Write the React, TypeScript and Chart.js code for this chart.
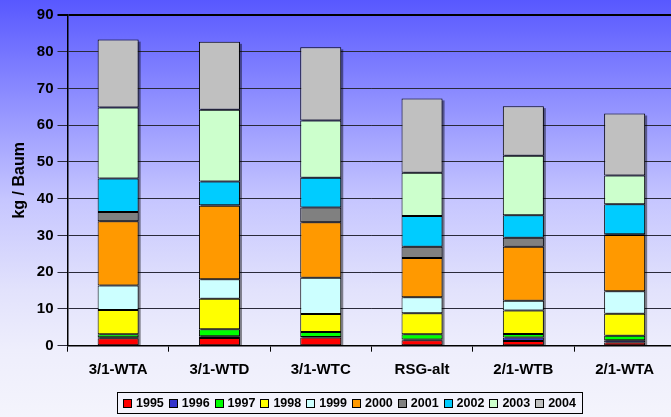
import React, { useEffect, useRef } from "react";
import { Chart, registerables } from "chart.js";

Chart.register(...registerables);

const categories = ["3/1-WTA", "3/1-WTD", "3/1-WTC", "RSG-alt", "2/1-WTB", "2/1-WTA"];
const years = ["1995", "1996", "1997", "1998", "1999", "2000", "2001", "2002", "2003", "2004"];
const v1995 = [2.0, 2.1, 2.2, 1.5, 1.3, 0.9];
const v1996 = [0.3, 0.5, 0.2, 0.2, 0.9, 0.6];
const v1997 = [0.8, 1.9, 1.3, 1.4, 1.0, 1.2];
const v1998 = [6.6, 8.3, 4.9, 5.7, 6.4, 6.0];
const v1999 = [6.7, 5.3, 9.9, 4.4, 2.6, 6.1];
const v2000 = [17.5, 20.0, 15.1, 10.7, 14.7, 15.3];
const v2001 = [2.5, 0.1, 4.0, 3.0, 2.5, 0.2];
const v2002 = [9.1, 6.5, 8.1, 8.4, 6.1, 8.2];
const v2003 = [19.3, 19.5, 15.6, 11.8, 16.2, 7.8];
const v2004 = [18.5, 18.5, 19.9, 20.2, 13.5, 16.9];
const seriesValues = [v1995, v1996, v1997, v1998, v1999, v2000, v2001, v2002, v2003, v2004];
const colors = ["#ff0000", "#3333cc", "#00ff00", "#ffff00", "#ccffff", "#ff9900", "#808080", "#00ccff", "#ccffcc", "#c0c0c0"];
const yTicks = { min: 0, max: 90, step: 10 };
const yTitle = "kg / Baum";

const FONT = "'Liberation Sans', Arial, sans-serif";

const shadowPlugin = {
  id: "barShadow",
  beforeDatasetsDraw(chart: any) {
    const ctx = chart.ctx;
    const n = chart.data.datasets.length;
    const first = chart.getDatasetMeta(0).data;
    const last = chart.getDatasetMeta(n - 1).data;
    ctx.save();
    ctx.fillStyle = "rgba(0,0,0,0.45)";
    first.forEach((el: any, i: number) => {
      const top = last[i].y;
      const base = el.base;
      const w = el.width;
      ctx.fillRect(el.x - w / 2 + 2, top + 2, w, base - top - 2);
    });
    ctx.restore();
  },
};

export default function App() {
  const ref = useRef<HTMLCanvasElement>(null);
  useEffect(() => {
    document.body.style.margin = "0";
    document.body.style.overflow = "hidden";
    const chart = new Chart(ref.current as HTMLCanvasElement, {
      type: "bar",
      data: {
        labels: categories,
        datasets: years.map((y, i) => ({
          label: y,
          data: seriesValues[i],
          backgroundColor: colors[i],
          borderColor: "#000",
          borderWidth: 1,
          borderSkipped: false,
          barPercentage: 0.405,
          categoryPercentage: 1,
        })),
      },
      options: {
        animation: false,
        responsive: false,
        devicePixelRatio: 1,
        layout: { padding: { top: 15, right: 14.7, bottom: 41.3, left: 0 } },
        plugins: {
          legend: { display: false },
          tooltip: { enabled: false },
        },
        scales: {
          x: {
            stacked: true,
            grid: {
              drawOnChartArea: false,
              drawTicks: true,
              tickLength: 6,
              color: "#000",
              offset: true,
            },
            border: { color: "#000", width: 1.5 },
            ticks: {
              color: "#000",
              padding: 9,
              font: { family: FONT, size: 15, weight: "bold" },
            },
            afterFit: (s: any) => {
              s.height = 30;
            },
          },
          y: {
            stacked: true,
            min: yTicks.min,
            max: yTicks.max,
            ticks: {
              stepSize: yTicks.step,
              color: "#000",
              padding: 4,
              font: { family: FONT, size: 15, weight: "bold" },
            },
            grid: {
              tickLength: 10,
              color: (c: any) => (c.tick && c.tick.value === 90 ? "#000" : "#2a2a3a"),
              lineWidth: (c: any) => (c.tick && c.tick.value === 90 ? 2 : 1),
            },
            border: { color: "#000", width: 1.5 },
            title: {
              display: true,
              text: yTitle,
              color: "#000",
              padding: { top: 10, bottom: 0 },
              font: { family: FONT, size: 16, weight: "bold" },
            },
            afterFit: (s: any) => {
              s.width = 67.5;
            },
          },
        },
      },
      plugins: [shadowPlugin],
    });
    return () => chart.destroy();
  }, []);

  return (
    <div
      style={{
        position: "relative",
        width: 671,
        height: 417,
        overflow: "hidden",
        background:
          "linear-gradient(to bottom, #5858ff 0px, #9a9aff 120px, #c6c6ff 200px, #e2e2fc 290px, #eeeefc 350px, #f4f4fc 417px)",
      }}
    >
      <canvas ref={ref} width={690} height={417} style={{ display: "block" }} />
      <div
        style={{
          position: "absolute",
          left: 117,
          top: 392,
          width: 459,
          height: 20,
          border: "1px solid #000",
          boxSizing: "content-box",
          display: "flex",
          alignItems: "center",
          paddingLeft: 5,
          fontFamily: FONT,
          fontWeight: "bold",
          fontSize: 12.5,
          color: "#000",
        }}
      >
        {years.map((y, i) => (
          <div key={y} style={{ width: 45.8, flex: "0 0 auto", display: "flex", alignItems: "center" }}>
            <span
              style={{
                width: 7,
                height: 7,
                border: "1px solid #000",
                background: colors[i],
                display: "inline-block",
                marginRight: 4,
              }}
            />
            <span>{y}</span>
          </div>
        ))}
      </div>
    </div>
  );
}
